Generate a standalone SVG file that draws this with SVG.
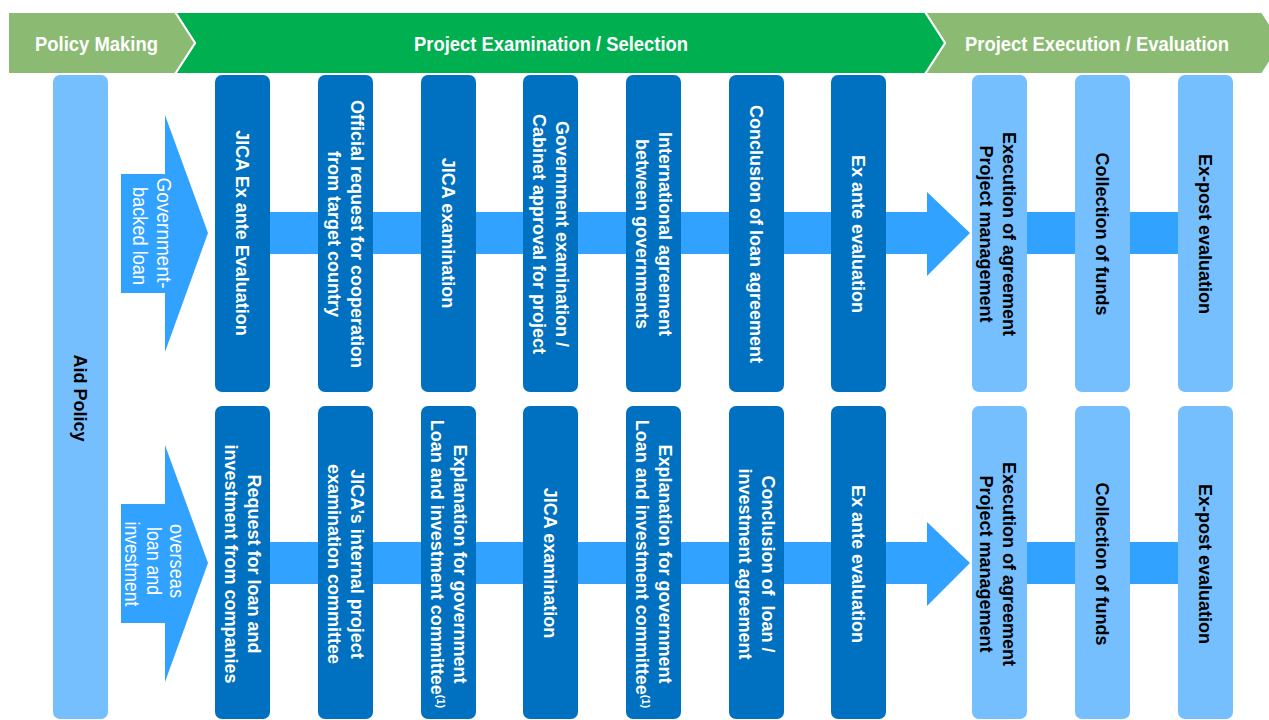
<svg xmlns="http://www.w3.org/2000/svg" width="1269" height="720" viewBox="0 0 1269 720">
<style>
.hdr{font-family:"Liberation Sans",Arial,sans-serif;font-weight:bold;font-size:21px;fill:#ffffff;text-anchor:middle}
.sep{stroke:#ffffff;stroke-width:2;stroke-linejoin:miter}
.dk{fill:#0070C0}
.lt{fill:#75BFFF}
.band{fill:#31A2FF}
.bt{font-family:"Liberation Sans",Arial,sans-serif;font-weight:bold;font-size:18px;text-anchor:middle}
.w{fill:#ffffff}
.k{fill:#000000}
.al{font-family:"Liberation Sans",Arial,sans-serif;font-size:21px;fill:#ffffff;text-anchor:middle}
.sup{font-size:11px}
.pre{white-space:pre}
</style>
<rect width="1269" height="720" fill="#ffffff"/>

<g id="header">
  <polygon points="925,12 1262,12 1282,43 1262,74 925,74 945,43" fill="#8BBA72" class="sep"/>
  <polygon points="175,12 925,12 945,43 925,74 175,74 195,43" fill="#00B050" class="sep"/>
  <polygon points="8,12 175,12 195,43 175,74 8,74" fill="#8BBA72" class="sep"/>
  <text class="hdr" x="96.5" y="50.5" textLength="123" lengthAdjust="spacingAndGlyphs">Policy Making</text>
  <text class="hdr" x="551" y="50.5" textLength="274" lengthAdjust="spacingAndGlyphs">Project Examination / Selection</text>
  <text class="hdr" x="1097" y="50.5" textLength="264" lengthAdjust="spacingAndGlyphs">Project Execution / Evaluation</text>
</g>

<g id="connectors">
  <polygon class="band" points="243,212 927,212 927,192 970,233 927,276 927,254 243,254"/>
  <rect class="band" x="1000" y="212" width="205" height="42"/>
  <polygon class="band" points="243,542 927,542 927,522 970,563 927,606 927,584 243,584"/>
  <rect class="band" x="1000" y="542" width="205" height="42"/>
</g>

<g id="aid-policy">
  <rect class="lt" x="53" y="75" width="55" height="644" rx="7"/>
  <text class="bt k" transform="translate(80.5,398) rotate(90)" y="6.3">Aid Policy</text>
</g>

<g id="gov-loan-arrow">
  <polygon class="band" points="121,174 165,174 165,115 208,233 165,352 165,293 121,293"/>
  <text class="al" transform="translate(152,236) rotate(90)">
    <tspan x="0" y="-5" textLength="111" lengthAdjust="spacingAndGlyphs">Government-</tspan>
    <tspan x="0" y="19" textLength="98" lengthAdjust="spacingAndGlyphs">backed loan</tspan>
  </text>
</g>

<g id="overseas-arrow">
  <polygon class="band" points="121,504 165,504 165,445 208,563 165,682 165,623 121,623"/>
  <text class="al" transform="translate(152,564) rotate(90)">
    <tspan x="0" y="-17.5" textLength="74" lengthAdjust="spacingAndGlyphs">overseas</tspan>
    <tspan x="0" y="5" textLength="68" lengthAdjust="spacingAndGlyphs">loan and</tspan>
    <tspan x="0" y="27.5" textLength="85" lengthAdjust="spacingAndGlyphs">investment</tspan>
  </text>
</g>

<!-- top row -->
<g id="t1"><rect class="dk" x="215" y="75" width="55" height="317" rx="7"/>
  <text class="bt w" transform="translate(242.5,233) rotate(90)" y="6.3">JICA Ex ante Evaluation</text></g>
<g id="t2"><rect class="dk" x="318" y="75" width="55" height="317" rx="7"/>
  <text class="bt w" transform="translate(345.5,234) rotate(90)"><tspan x="0" y="-5.2">Official request for cooperation</tspan><tspan x="0" y="17.8">from target country</tspan></text></g>
<g id="t3"><rect class="dk" x="421" y="75" width="55" height="317" rx="7"/>
  <text class="bt w" transform="translate(448.5,233) rotate(90)" y="6.3">JICA examination</text></g>
<g id="t4"><rect class="dk" x="523" y="75" width="55" height="317" rx="7"/>
  <text class="bt w" transform="translate(550.5,234) rotate(90)"><tspan x="0" y="-5.2">Government examination /</tspan><tspan x="0" y="17.8">Cabinet approval for project</tspan></text></g>
<g id="t5"><rect class="dk" x="626" y="75" width="55" height="317" rx="7"/>
  <text class="bt w" transform="translate(653.5,234) rotate(90)"><tspan x="0" y="-5.2">International agreement</tspan><tspan x="0" y="17.8">between governments</tspan></text></g>
<g id="t6"><rect class="dk" x="729" y="75" width="55" height="317" rx="7"/>
  <text class="bt w" transform="translate(756.5,234) rotate(90)" y="6.3">Conclusion of loan agreement</text></g>
<g id="t7"><rect class="dk" x="831" y="75" width="55" height="317" rx="7"/>
  <text class="bt w" transform="translate(858.5,234) rotate(90)" y="6.3">Ex ante evaluation</text></g>
<g id="t8"><rect class="lt" x="972" y="75" width="55" height="317" rx="7"/>
  <text class="bt k" transform="translate(998,234) rotate(90)"><tspan x="0" y="-5.2">Execution of agreement</tspan><tspan x="0" y="17.8">Project management</tspan></text></g>
<g id="t9"><rect class="lt" x="1075" y="75" width="55" height="317" rx="7"/>
  <text class="bt k" transform="translate(1102.5,234) rotate(90)" y="6.3">Collection of funds</text></g>
<g id="t10"><rect class="lt" x="1178" y="75" width="55" height="317" rx="7"/>
  <text class="bt k" transform="translate(1205.5,234) rotate(90)" y="6.3">Ex-post evaluation</text></g>

<!-- bottom row -->
<g id="b1"><rect class="dk" x="215" y="406" width="55" height="313" rx="7"/>
  <text class="bt w" transform="translate(242.5,564) rotate(90)"><tspan x="0" y="-5.2">Request for loan and</tspan><tspan x="0" y="17.8">investment from companies</tspan></text></g>
<g id="b2"><rect class="dk" x="318" y="406" width="55" height="313" rx="7"/>
  <text class="bt w" transform="translate(345.5,564) rotate(90)"><tspan x="0" y="-5.2">JICA’s internal project</tspan><tspan x="0" y="17.8">examination committee</tspan></text></g>
<g id="b3"><rect class="dk" x="421" y="406" width="55" height="313" rx="7"/>
  <text class="bt w" transform="translate(448.5,564) rotate(90)"><tspan x="0" y="-5.2">Explanation for government</tspan><tspan x="0" y="17.8">Loan and investment committee<tspan class="sup" dy="-6">(1)</tspan></tspan></text></g>
<g id="b4"><rect class="dk" x="523" y="406" width="55" height="313" rx="7"/>
  <text class="bt w" transform="translate(550.5,563) rotate(90)" y="6.3">JICA examination</text></g>
<g id="b5"><rect class="dk" x="626" y="406" width="55" height="313" rx="7"/>
  <text class="bt w" transform="translate(653.5,564) rotate(90)"><tspan x="0" y="-5.2">Explanation for government</tspan><tspan x="0" y="17.8">Loan and investment committee<tspan class="sup" dy="-6">(1)</tspan></tspan></text></g>
<g id="b6"><rect class="dk" x="729" y="406" width="55" height="313" rx="7"/>
  <text class="bt w pre" transform="translate(756.5,564) rotate(90)"><tspan x="0" y="-5.2">Conclusion of  loan /</tspan><tspan x="0" y="17.8">investment agreement</tspan></text></g>
<g id="b7"><rect class="dk" x="831" y="406" width="55" height="313" rx="7"/>
  <text class="bt w" transform="translate(858.5,564) rotate(90)" y="6.3">Ex ante evaluation</text></g>
<g id="b8"><rect class="lt" x="972" y="406" width="55" height="313" rx="7"/>
  <text class="bt k" transform="translate(998,564) rotate(90)"><tspan x="0" y="-5.2">Execution of agreement</tspan><tspan x="0" y="17.8">Project management</tspan></text></g>
<g id="b9"><rect class="lt" x="1075" y="406" width="55" height="313" rx="7"/>
  <text class="bt k" transform="translate(1102.5,564) rotate(90)" y="6.3">Collection of funds</text></g>
<g id="b10"><rect class="lt" x="1178" y="406" width="55" height="313" rx="7"/>
  <text class="bt k" transform="translate(1205.5,564) rotate(90)" y="6.3">Ex-post evaluation</text></g>
</svg>
